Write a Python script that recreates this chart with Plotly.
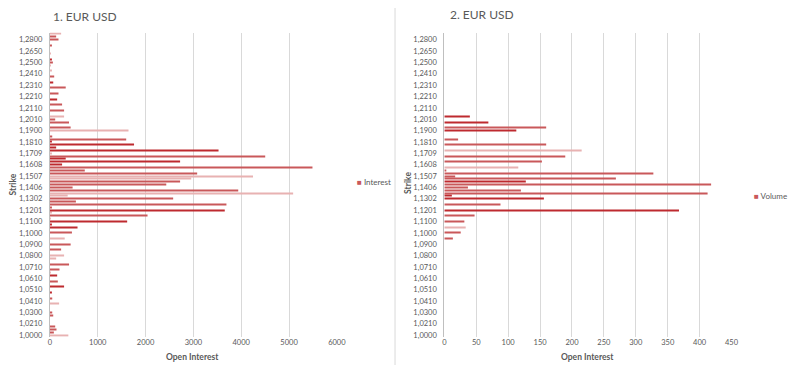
import plotly.graph_objects as go

# ---------------- data ----------------
strikes = [
    "1,0000", "1,0050", "1,0100", "1,0150", "1,0210", "1,0230", "1,0250", "1,0280",
    "1,0300", "1,0330", "1,0350", "1,0380", "1,0410", "1,0430", "1,0450", "1,0480",
    "1,0510", "1,0530", "1,0550", "1,0580", "1,0610", "1,0630", "1,0650", "1,0680",
    "1,0710", "1,0730", "1,0750", "1,0780", "1,0800", "1,0830", "1,0850", "1,0880",
    "1,0900", "1,0930", "1,0950", "1,0980", "1,1000", "1,1030", "1,1050", "1,1080",
    "1,1100", "1,1130", "1,1150", "1,1180", "1,1201", "1,1230", "1,1250", "1,1280",
    "1,1302", "1,1330", "1,1350", "1,1380", "1,1406", "1,1430", "1,1450", "1,1480",
    "1,1507", "1,1530", "1,1550", "1,1580", "1,1608", "1,1630", "1,1650", "1,1680",
    "1,1709", "1,1730", "1,1750", "1,1780", "1,1810", "1,1830", "1,1850", "1,1880",
    "1,1900", "1,1930", "1,1950", "1,1980", "1,2010", "1,2030", "1,2050", "1,2080",
    "1,2110", "1,2130", "1,2150", "1,2180", "1,2210", "1,2230", "1,2250", "1,2280",
    "1,2310", "1,2330", "1,2350", "1,2380", "1,2410", "1,2430", "1,2450", "1,2480",
    "1,2500", "1,2550", "1,2600", "1,2620", "1,2650", "1,2700", "1,2750", "1,2780",
    "1,2800", "1,2900", "1,3000",
]

tick_labels = [
    "1,0000", "1,0210", "1,0300", "1,0410", "1,0510", "1,0610", "1,0710", "1,0800",
    "1,0900", "1,1000", "1,1100", "1,1201", "1,1302", "1,1406", "1,1507", "1,1608",
    "1,1709", "1,1810", "1,1900", "1,2010", "1,2110", "1,2210", "1,2310", "1,2410",
    "1,2500", "1,2650", "1,2800",
]

interest = [
    385, 82, 137, 110, 0, 0, 0, 69,
    48, 0, 0, 192, 0, 48, 0, 34,
    0, 296, 0, 165, 0, 151, 20, 200,
    0, 400, 0, 130, 296, 0, 234, 0,
    433, 0, 309, 0, 460, 0, 577, 41,
    1615, 20, 2041, 27, 3656, 27, 3691, 543,
    2577, 371, 5086, 3938, 474, 2433, 2722, 2955,
    4247, 3079, 729, 5490, 254, 2722, 330, 4502,
    27, 3526, 130, 1759, 27, 1595, 48, 0,
    1643, 433, 0, 399, 110, 296, 0, 296,
    0, 254, 0, 151, 0, 179, 0, 330,
    0, 69, 0, 89, 0, 27, 0, 20,
    62, 27, 0, 20, 0, 0, 27, 0,
    179, 130, 234,
]

volume = [
    0, 0, 0, 0, 0, 0, 0, 0,
    0, 0, 0, 0, 0, 0, 0, 0,
    0, 0, 0, 0, 0, 0, 0, 0,
    0, 0, 0, 0, 0, 0, 0, 0,
    0, 0, 13.4, 0, 25.7, 0, 33.5, 0,
    31.4, 0, 47.4, 0, 367.7, 0, 88, 0,
    156, 11.8, 412.5, 120, 37, 418, 127.7, 268.8,
    17, 327.5, 3.1, 115.9, 0, 152.9, 0, 189.5,
    0, 215.2, 0, 159.6, 0, 21.6, 0, 0,
    112.8, 159.6, 0, 69, 0, 40, 0, 0,
    0, 0, 0, 0, 0, 0, 0, 0,
    0, 0, 0, 0, 0, 0, 0, 0,
    0, 0, 0, 0, 0, 0, 0, 0,
    0, 0, 0,
]

# ---------------- styles ----------------
DARK, MED, LIGHT = "#BE2A2F", "#C9585A", "#E8B2B2"
left_dark = {97, 89, 83, 68, 67, 66, 65, 62, 61, 60, 44, 40, 39, 38, 21, 17, 15}
left_light = {106, 99, 95, 93, 77, 72, 64, 56, 55, 50, 49, 43, 41, 34, 28, 27, 22, 11, 0}
right_dark = {77, 75, 72, 54, 49, 48, 44}
right_light = {65, 59, 38}


def shade(i, dark, light):
    if i in dark:
        return DARK
    if i in light:
        return LIGHT
    return MED


left_colors = [shade(i, left_dark, left_light) for i in range(len(strikes))]
right_colors = [shade(i, right_dark, right_light) for i in range(len(strikes))]

# page has an 8px body margin on every side: figure sized so the page is 800x376
OFF = 8
W, H = 800 - 2 * OFF, 376 - 2 * OFF


def px(x):
    return (x - OFF) / W


def py(y):
    return 1 - (y - OFF) / H


TXT = "#595959"
GRID = "#D9D9D9"
FONT = "Lato"

fig = go.Figure()
fig.add_trace(go.Bar(y=strikes, x=interest, orientation="h", name="Interest",
                     marker=dict(color=left_colors, line=dict(width=0)),
                     xaxis="x", yaxis="y", showlegend=False))
fig.add_trace(go.Bar(y=strikes, x=volume, orientation="h", name="Volume",
                     marker=dict(color=right_colors, line=dict(width=0)),
                     xaxis="x2", yaxis="y2", showlegend=False))

ydom = [py(339.4), py(32.8)]
yax = dict(type="category", categoryorder="array", categoryarray=strikes,
           tickmode="array", tickvals=tick_labels, ticktext=tick_labels,
           showgrid=False, showline=True, linecolor="#BFBFBF", linewidth=1,
           ticks="", ticklabelstandoff=5, tickfont=dict(size=7.5, color=TXT, family=FONT),
           zeroline=False, domain=ydom)
xax_common = dict(showgrid=True, gridcolor=GRID, gridwidth=1, zeroline=False,
                  showline=False, ticks="", tickfont=dict(size=7.5, color=TXT, family=FONT))

fig.update_layout(
    width=W, height=H, margin=dict(l=0, r=0, t=0, b=0),
    paper_bgcolor="white", plot_bgcolor="white",
    bargap=0.62, font=dict(family=FONT, color=TXT, size=8),
    xaxis=dict(domain=[px(48.5), px(339.5)], range=[0, 6000], dtick=1000, anchor="y", **xax_common),
    yaxis=dict(anchor="x", **yax),
    xaxis2=dict(domain=[px(448.5), px(739.8)], range=[0, 450], dtick=50, anchor="y2", **xax_common),
    yaxis2=dict(anchor="x2", **yax),
)

ann = [
    dict(text="1. EUR USD", x=px(50), y=py(16.5), xanchor="left", yanchor="middle",
         font=dict(size=12, color=TXT, family=FONT)),
    dict(text="2. EUR USD", x=px(452), y=py(14.5), xanchor="left", yanchor="middle",
         font=dict(size=12, color=TXT, family=FONT)),
    dict(text="<b>Strike</b>", x=px(11), y=py(186), textangle=-90, xanchor="center",
         yanchor="middle", font=dict(size=8.5, color=TXT, family=FONT)),
    dict(text="<b>Strike</b>", x=px(411), y=py(184), textangle=-90, xanchor="center",
         yanchor="middle", font=dict(size=8.5, color=TXT, family=FONT)),
    dict(text="<b>Open Interest</b>", x=px(193.5), y=py(360), xanchor="center",
         yanchor="middle", font=dict(size=8.5, color=TXT, family=FONT)),
    dict(text="<b>Open Interest</b>", x=px(594), y=py(360), xanchor="center",
         yanchor="middle", font=dict(size=8.5, color=TXT, family=FONT)),
    dict(text=f"<span style='color:{MED}'>■</span> Interest", x=px(358), y=py(183.5),
         xanchor="left", yanchor="middle", font=dict(size=8, color=TXT, family=FONT)),
    dict(text=f"<span style='color:{MED}'>■</span> Volume", x=px(761), y=py(198),
         xanchor="left", yanchor="middle", font=dict(size=8, color=TXT, family=FONT)),
]
for a in ann:
    a.update(xref="paper", yref="paper", showarrow=False)
fig.update_layout(annotations=ann)

fig.add_shape(type="line", xref="paper", yref="paper", x0=px(398.5), x1=px(398.5),
              y0=0, y1=1, line=dict(color=GRID, width=1))

fig.write_html("out.html")
